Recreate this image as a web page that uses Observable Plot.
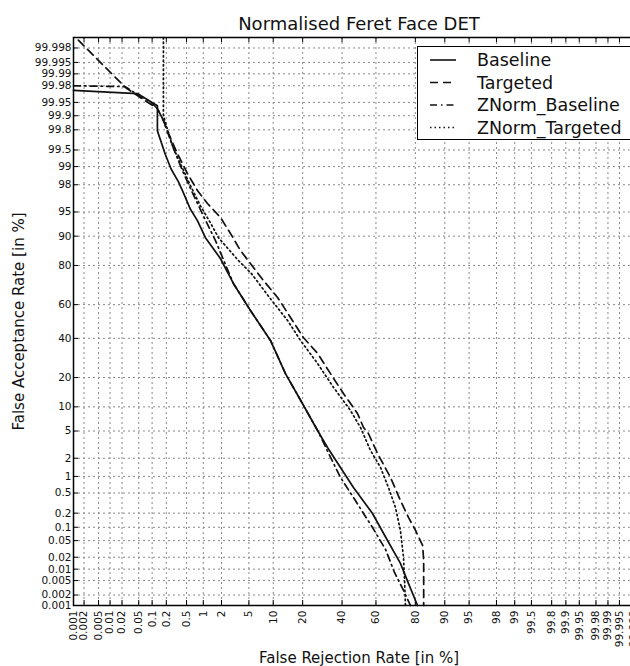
<!DOCTYPE html>
<html>
<head>
<meta charset="utf-8">
<script src="https://cdn.jsdelivr.net/npm/d3@7"></script>
<script src="https://cdn.jsdelivr.net/npm/@observablehq/plot@0.6"></script>
<style>
  html, body { margin: 0; padding: 0; background: #fff; overflow: hidden; }
  #wrap { position: relative; width: 630px; height: 666px; overflow: hidden; }
  #chart svg { max-width: none !important; display: block; }
  #legend { position: absolute; left: 417px; top: 46px; width: 260px; height: 94px;
            border: 1.5px solid #000; background: #fff; box-sizing: border-box; }
</style>
</head>
<body>
<div id="wrap">
  <div id="chart"></div>
  <div id="legend"></div>
</div>
<script>
// ---------- data (percent) ----------
const tickLabels = ["0.001","0.002","0.005","0.01","0.02","0.05","0.1","0.2","0.5","1","2","5","10","20","40","60","80","90","95","98","99","99.5","99.8","99.9","99.95","99.98","99.99","99.995","99.998"];

const seriesNames = ["Baseline","Targeted","ZNorm_Baseline","ZNorm_Targeted"];

const baselineFRR = [0.001, 0.0465, 0.13, 0.13, 0.19, 0.25, 0.35, 0.43, 0.59, 0.79, 1.09, 1.92, 3.03, 5.24, 9.3, 13.6, 19.9, 26.8, 31.9, 39.1, 46.7, 58.0, 66.5, 73.2, 77.0, 80.9];
const baselineFAR = [99.974, 99.969, 99.94, 99.79, 99.4, 98.9, 98.2, 97.4, 95.4, 93.5, 89.6, 82.8, 71.6, 56.6, 38.8, 21.7, 10.9, 5.08, 2.92, 1.42, 0.635, 0.197, 0.0504, 0.014, 0.0042, 0.001];

const targetedFRR = [0.00138, 0.0242, 0.0545, 0.13, 0.174, 0.21, 0.333, 0.517, 0.79, 1.18, 1.92, 2.74, 3.83, 5.24, 7.67, 11.2, 15.3, 20.3, 26.8, 33.5, 40.8, 49.1, 52.7, 55.6, 60.9, 68.1, 73.2, 77.0, 80.1, 82.9, 83.3, 83.3];
const targetedFAR = [99.9988, 99.978, 99.9615, 99.931, 99.873, 99.79, 99.42, 98.69, 97.54, 96.18, 94.1, 90.7, 85.7, 80.8, 73.1, 64.1, 52.4, 40.5, 31.6, 21.7, 14.0, 8.36, 5.57, 4.63, 2.37, 0.96, 0.36, 0.163, 0.085, 0.0385, 0.0166, 0.001];

const znormBaselineFRR = [0.001, 0.024, 0.0545, 0.0915, 0.13, 0.174, 0.265, 0.417, 0.64, 1.0, 1.6, 3.03, 5.24, 9.3, 13.6, 19.9, 26.8, 35.2, 39.1, 46.7, 52.7, 58.0, 65.4, 70.2, 74.7, 77.9];
const znormBaselineFAR = [99.98, 99.979, 99.9635, 99.952, 99.931, 99.873, 99.59, 98.83, 97.36, 94.4, 88.8, 71.6, 56.6, 38.8, 21.7, 10.9, 5.08, 1.65, 0.96, 0.411, 0.197, 0.099, 0.031, 0.0082, 0.00268, 0.001];

const znormTargetedFRR = [0.174, 0.174, 0.2, 0.265, 0.38, 0.59, 0.89, 1.32, 1.79, 3.58, 5.4, 9.05, 14.3, 19.1, 26.8, 35.2, 44.9, 50.9, 56.8, 62.6, 67.0, 70.7, 73.2, 74.7, 75.2, 75.6];
const znormTargetedFAR = [99.999, 99.901, 99.837, 99.59, 99.12, 97.94, 95.9, 93.1, 89.6, 82.0, 76.4, 64.1, 50.6, 38.8, 26.4, 16.1, 9.08, 5.57, 2.64, 1.42, 0.635, 0.261, 0.085, 0.0197, 0.005, 0.001];

// ---------- probit (normal deviate) ----------
function probit(p) {
  const a=[-3.969683028665376e+01,2.209460984245205e+02,-2.759285104469687e+02,1.383577518672690e+02,-3.066479806614716e+01,2.506628277459239e+00];
  const b=[-5.447609879822406e+01,1.615858368580409e+02,-1.556989798598866e+02,6.680131188303962e+01,-1.328068155288572e+01];
  const c=[-7.784894002430293e-03,-3.223964580411365e-01,-2.400758277161838e+00,-2.549732539343734e+00,4.374664141464968e+00,2.938163982698783e+00];
  const d=[7.784695709041462e-03,3.224671290700398e-01,2.445134137142996e+00,3.754408661907416e+00];
  const plow = 0.02425, phigh = 1 - plow;
  if (p < plow) { const q = Math.sqrt(-2*Math.log(p)); return (((((c[0]*q+c[1])*q+c[2])*q+c[3])*q+c[4])*q+c[5])/((((d[0]*q+d[1])*q+d[2])*q+d[3])*q+1); }
  if (p <= phigh) { const q = p-0.5, r = q*q; return (((((a[0]*r+a[1])*r+a[2])*r+a[3])*r+a[4])*r+a[5])*q/(((((b[0]*r+b[1])*r+b[2])*r+b[3])*r+b[4])*r+1); }
  const q = Math.sqrt(-2*Math.log(1-p)); return -(((((c[0]*q+c[1])*q+c[2])*q+c[3])*q+c[4])*q+c[5])/((((d[0]*q+d[1])*q+d[2])*q+d[3])*q+1);
}
const pz = v => probit(v / 100);

const rows = [];
[[baselineFRR, baselineFAR], [targetedFRR, targetedFAR], [znormBaselineFRR, znormBaselineFAR], [znormTargetedFRR, znormTargetedFAR]]
  .forEach(([fx, fy], s) => fx.forEach((v, i) => rows.push({series: seriesNames[s], frr: v, far: fy[i]})));

const tickZ = tickLabels.map(t => pz(+t));
const fmt = new Map(tickZ.map((z, i) => [z, tickLabels[i]]));
const zmin = pz(0.001), zmax = pz(99.999);

const W = 660, H = 666, mL = 73, mR = 16, mT = 37, mB = 61;
const plotW = W - mL - mR, plotH = H - mT - mB;
const styles = {
  "Baseline": {},
  "Targeted": {strokeDasharray: "8,5"},
  "ZNorm_Baseline": {strokeDasharray: "7,4,1.5,4"},
  "ZNorm_Targeted": {strokeDasharray: "1.5,3"}
};
const lineMarks = seriesNames.map(s => Plot.line(rows.filter(r => r.series === s), {
  x: r => pz(r.frr), y: r => pz(r.far), stroke: "#111", strokeWidth: 1.7, ...styles[s]
}));

const chart = Plot.plot({
  width: W, height: H, marginLeft: mL, marginRight: mR, marginTop: mT, marginBottom: mB,
  style: {fontFamily: "DejaVu Sans", background: "white", color: "#111", maxWidth: "none"},
  x: {domain: [zmin, zmax]},
  y: {domain: [zmin, zmax]},
  marks: [
    Plot.gridX({ticks: tickZ, stroke: "#8a8a8a", strokeOpacity: 1, strokeWidth: 1, strokeDasharray: "2,3"}),
    Plot.gridY({ticks: tickZ, stroke: "#8a8a8a", strokeOpacity: 1, strokeWidth: 1, strokeDasharray: "2,3"}),
    Plot.ruleX(tickZ, {x: d => d, insetTop: plotH - 5, stroke: "#000"}),
    Plot.ruleX(tickZ, {x: d => d, insetBottom: plotH - 5, stroke: "#000"}),
    Plot.ruleY(tickZ, {y: d => d, insetRight: plotW - 5, stroke: "#000"}),
    Plot.ruleY(tickZ, {y: d => d, insetLeft: plotW - 5, stroke: "#000"}),
    Plot.axisX({ticks: tickZ, tickSize: 0, tickPadding: 5, tickRotate: -90, tickFormat: d => fmt.get(d), fontSize: 10.5, label: null}),
    Plot.axisY({ticks: tickZ, tickSize: 0, tickPadding: 2, tickFormat: d => fmt.get(d), fontSize: 10.5, label: null}),
    ...lineMarks,
    Plot.frame({stroke: "#000", strokeWidth: 1.5}),
    Plot.text(["Normalised Feret Face DET"], {frameAnchor: "top", dy: -13, fontSize: 18, textAnchor: "middle", lineAnchor: "middle"}),
    Plot.text(["False Rejection Rate [in %]"], {frameAnchor: "bottom", dy: 53, fontSize: 15, textAnchor: "middle", lineAnchor: "middle"}),
    Plot.text(["False Acceptance Rate [in %]"], {frameAnchor: "left", dx: -54, rotate: -90, fontSize: 15, textAnchor: "middle", lineAnchor: "middle"})
  ]
});
chart.style.maxWidth = "none";
chart.style.width = W + "px";
chart.style.height = H + "px";
document.getElementById("chart").appendChild(chart);

// ---------- legend ----------
const dashes = {"Baseline": "none", "Targeted": "8,5", "ZNorm_Baseline": "7,4,1.5,4", "ZNorm_Targeted": "1.5,3"};
const lg = d3.select("#legend").append("svg").attr("width", 260).attr("height", 92)
  .style("font-family", "DejaVu Sans");
seriesNames.forEach((s, i) => {
  const cy = 13 + i * 22.5;
  lg.append("line").attr("x1", 12).attr("x2", 38).attr("y1", cy).attr("y2", cy)
    .attr("stroke", "#111").attr("stroke-width", 1.6).attr("stroke-dasharray", dashes[s]);
  lg.append("text").attr("x", 59).attr("y", cy).attr("dy", "0.35em")
    .attr("font-size", 17.5).attr("fill", "#111").text(s);
});
</script>
</body>
</html>
